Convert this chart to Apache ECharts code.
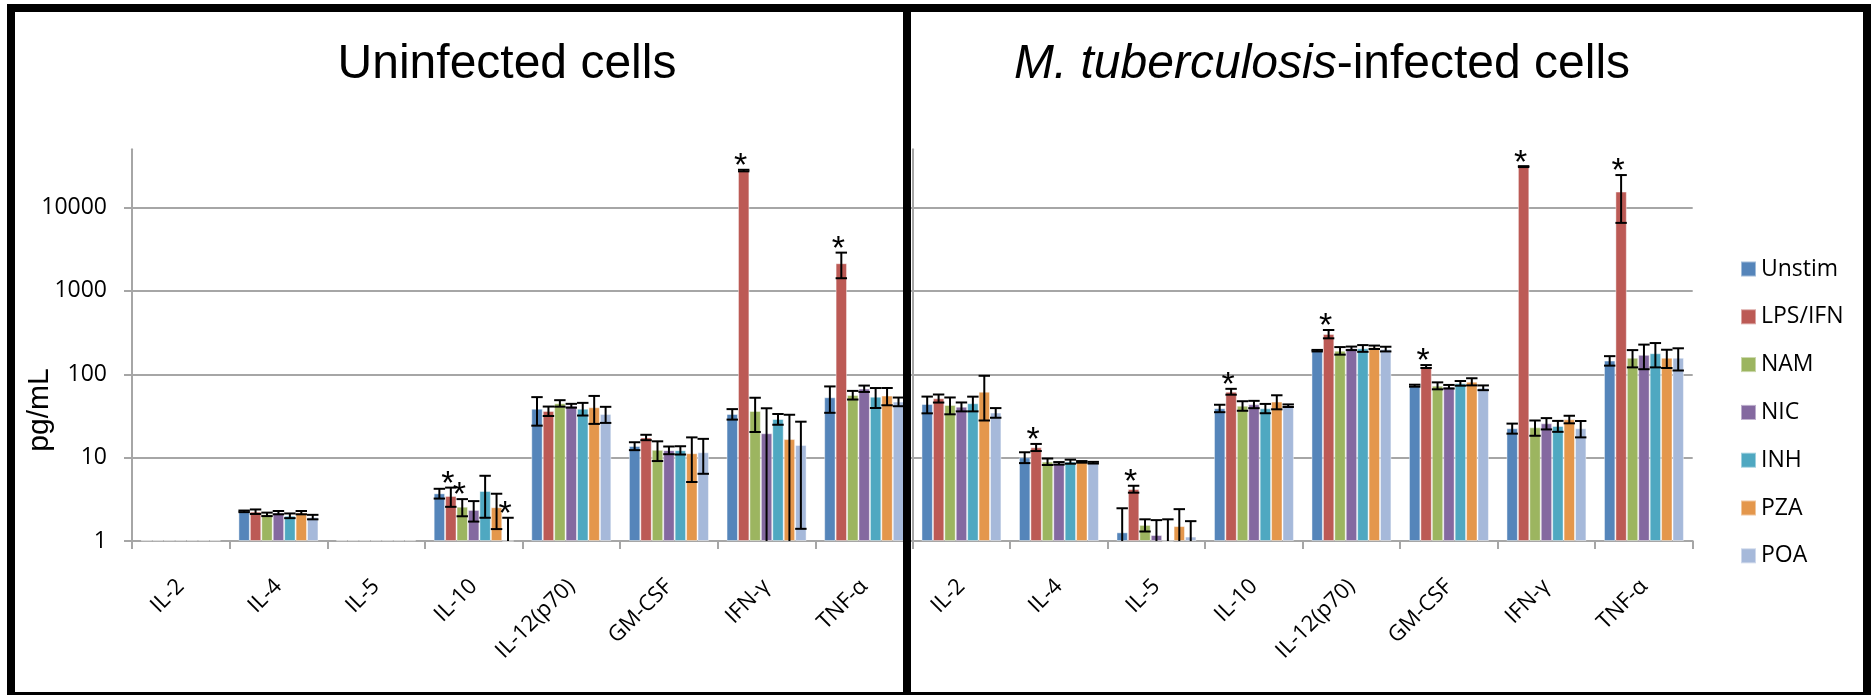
<!DOCTYPE html>
<html>
<head>
<meta charset="utf-8">
<style>
  html, body { margin: 0; padding: 0; background: #ffffff; }
  #chart { width: 1873px; height: 695px; }
</style>
<script src="https://cdn.jsdelivr.net/npm/echarts@6/dist/echarts.min.js"></script>
</head>
<body>
<div id="chart"></div>
<script>
// Cytokine panel: two log-scale grouped bar charts (uninfected vs infected)
const categories = ['IL-2', 'IL-4', 'IL-5', 'IL-10', 'IL-12(p70)', 'GM-CSF', 'IFN-γ', 'TNF-α'];
const treatments = ['Unstim', 'LPS/IFN', 'NAM', 'NIC', 'INH', 'PZA', 'POA'];
const colors = ['#5585BA', '#BC5A55', '#9CB560', '#8469A0', '#4FA8C1', '#E4974C', '#A6B9DA'];
const yTicks = [1, 10, 100, 1000, 10000];

// Uninfected cells: mean pg/mL per treatment (rows) and cytokine (columns)
const uninfectedMean = [
  [1.02, 2.27, 1.02, 3.73, 38.7, 13.8, 33.4, 53],
  [1.02, 2.25, 1.02, 3.47, 36.3, 17.5, 27800, 2150],
  [1.02, 2.09, 1.02, 2.58, 44.9, 12.4, 36.3, 56.5],
  [1.02, 2.19, 1.02, 2.36, 42.0, 12.3, 19.6, 67.3],
  [1.02, 2.01, 1.02, 3.98, 38.7, 12.3, 29.1, 53.9],
  [1.02, 2.19, 1.02, 2.54, 40.2, 11.3, 16.7, 55.5],
  [1.02, 1.94, 1.02, 1.0, 33.4, 11.6, 14.2, 47]
];
const uninfectedSD = [
  [0, 0.05, 0, 0.5, 14.5, 1.5, 4.8, 18.5],
  [0, 0.14, 0, 0.9, 4.7, 1.3, 600, 730],
  [0, 0.1, 0, 0.6, 4, 3.3, 16, 6.7],
  [0, 0.1, 0, 0.65, 2.2, 1.3, 19.5, 5.9],
  [0, 0.13, 0, 2.08, 6.7, 1.4, 4.3, 14.5],
  [0, 0.1, 0, 1.15, 14.8, 6.2, 16, 13],
  [0, 0.12, 0, 0.9, 7.3, 5.2, 12.8, 5.6]
];
// M. tuberculosis-infected cells
const infectedMean = [
  [44, 10.1, 1.27, 39.1, 192, 73, 22.5, 146],
  [51.5, 13.3, 4.2, 61.9, 305, 124, 31000, 15550],
  [42.9, 8.96, 1.56, 42, 192, 73, 23.1, 158],
  [40.9, 8.55, 1.18, 43.6, 205, 71, 25.8, 171],
  [44.9, 8.96, 1.0, 39.1, 205, 78, 24, 179],
  [61.9, 8.9, 1.51, 47, 211, 81.6, 28.8, 158],
  [34.7, 8.7, 1.13, 42, 201, 69, 22.5, 158]
];
const infectedSD = [
  [10, 1.5, 1.2, 4, 4, 2, 3.1, 19],
  [5.7, 1.3, 0.4, 5, 35, 5, 400, 9000],
  [9.8, 0.8, 0.26, 5.5, 20, 7, 4.8, 37],
  [5, 0.3, 0.6, 4.4, 10, 3.5, 4, 56],
  [9, 0.5, 0.82, 5, 19, 5, 3.6, 58],
  [34, 0.2, 0.9, 9, 10, 8, 3, 39],
  [4.6, 0.2, 0.6, 1.5, 13, 4.5, 5, 47]
];
// significance markers: [cytokine index, treatment index]
const uninfectedSig = [[3, 1], [3, 2], [3, 6], [6, 1], [7, 1]];
const infectedSig = [[1, 1], [2, 1], [3, 1], [4, 1], [5, 1], [6, 1], [7, 1]];

const CAT_GAP = 0.18;
const AXIS_GRAY = '#a6a6a6';
const LABEL_FONT = '"Open Sans"';

function xAxisFor(gridIndex) {
  return {
    type: 'category', gridIndex: gridIndex, data: categories,
    axisLine: { lineStyle: { color: AXIS_GRAY, width: 2 } },
    axisTick: { show: true, length: 8, lineStyle: { color: AXIS_GRAY, width: 2 } },
    axisLabel: { rotate: 45, interval: 0, margin: 42, fontSize: 22, fontFamily: LABEL_FONT, color: '#000' },
    splitLine: { show: false }
  };
}
function yAxisFor(gridIndex, showLabels) {
  return {
    type: 'log', gridIndex: gridIndex, logBase: 10, min: 1, max: 50000,
    axisLine: { show: true, lineStyle: { color: AXIS_GRAY, width: 2 } },
    axisTick: { show: true, length: 8, lineStyle: { color: AXIS_GRAY, width: 2 }, customValues: yTicks },
    axisLabel: {
      show: showLabels, margin: 25, fontSize: 23, fontFamily: LABEL_FONT, color: '#000',
      customValues: yTicks,
      formatter: function (v) { return String(v); }
    },
    splitLine: { show: true, showMinLine: false, lineStyle: { color: AXIS_GRAY, width: 2 } }
  };
}

function barSeries(means, gridIndex) {
  return treatments.map(function (name, t) {
    return {
      name: name, type: 'bar', xAxisIndex: gridIndex, yAxisIndex: gridIndex,
      data: means[t], barGap: '0%', barCategoryGap: (CAT_GAP * 100) + '%',
      itemStyle: { color: colors[t], borderColor: 'rgba(255,255,255,0.45)', borderWidth: 1 },
      emphasis: { disabled: true }, z: 2
    };
  });
}

function errorSeries(means, sds, sig, gridIndex) {
  const data = [];
  for (let t = 0; t < treatments.length; t++) {
    for (let c = 0; c < categories.length; c++) {
      const star = sig.some(function (s) { return s[0] === c && s[1] === t; }) ? 1 : 0;
      data.push([c, means[t][c], t, sds[t][c], star]);
    }
  }
  return {
    type: 'custom', xAxisIndex: gridIndex, yAxisIndex: gridIndex, z: 5, silent: true,
    encode: { x: 0, y: 1 }, data: data,
    renderItem: function (params, api) {
      const c = api.value(0), mean = api.value(1), t = api.value(2), sd = api.value(3), star = api.value(4);
      const band = api.size([1, 0])[0];
      const bw = band * (1 - CAT_GAP) / treatments.length;
      const center = api.coord([c, mean]);
      const cx = center[0] - band * (1 - CAT_GAP) / 2 + (t + 0.5) * bw;
      const children = [];
      let hiY = center[1];
      if (sd > 0) {
        const hi = mean + sd;
        const lo = mean - sd;
        hiY = api.coord([c, hi])[1];
        const clipped = lo < 1;
        const loY = api.coord([c, clipped ? 1 : lo])[1];
        const half = bw / 2;
        const ls = { stroke: '#000', lineWidth: 2 };
        children.push({ type: 'line', shape: { x1: cx, y1: hiY, x2: cx, y2: loY }, style: ls });
        children.push({ type: 'line', shape: { x1: cx - half, y1: hiY, x2: cx + half, y2: hiY }, style: ls });
        if (!clipped) {
          children.push({ type: 'line', shape: { x1: cx - half, y1: loY, x2: cx + half, y2: loY }, style: ls });
        }
      }
      if (star) {
        children.push({
          type: 'text',
          style: { text: '*', x: cx - 3, y: hiY - 3, font: '34px "Liberation Sans"', fill: '#000',
                   textAlign: 'center', textVerticalAlign: 'middle' }
        });
      }
      return { type: 'group', children: children };
    }
  };
}

const chart = echarts.init(document.getElementById('chart'), null, { renderer: 'canvas' });
chart.setOption({
  backgroundColor: '#ffffff',
  animation: false,
  color: colors,
  grid: [
    { left: 132, top: 149.3, width: 781, height: 391.7, outerBoundsMode: 'none', containLabel: false },
    { left: 912.7, top: 149.3, width: 780, height: 391.7, outerBoundsMode: 'none', containLabel: false }
  ],
  xAxis: [xAxisFor(0), xAxisFor(1)],
  yAxis: [yAxisFor(0, true), yAxisFor(1, false)],
  legend: {
    orient: 'vertical', left: 1735, top: 252, itemWidth: 15, itemHeight: 15, itemGap: 23.8,
    icon: 'rect', data: treatments, selectedMode: false,
    textStyle: { fontSize: 23, lineHeight: 24, fontFamily: LABEL_FONT, color: '#000' }
  },
  series: []
    .concat(barSeries(uninfectedMean, 0))
    .concat(barSeries(infectedMean, 1))
    .concat([errorSeries(uninfectedMean, uninfectedSD, uninfectedSig, 0),
             errorSeries(infectedMean, infectedSD, infectedSig, 1)]),
  graphic: [
    { type: 'text', x: 507, y: 65, z: 10,
      style: { text: 'Uninfected cells', font: '48px "Liberation Sans"', fill: '#000',
               textAlign: 'center', textVerticalAlign: 'middle' } },
    { type: 'text', x: 1322, y: 65, z: 10,
      style: { text: '{it|M. tuberculosis}{n|-infected cells}', textAlign: 'center', textVerticalAlign: 'middle',
               rich: { it: { font: 'italic 48px "Liberation Sans"', fill: '#000' },
                       n: { font: '48px "Liberation Sans"', fill: '#000' } } } },
    { type: 'text', x: 40, y: 410, rotation: Math.PI / 2, z: 10,
      style: { text: 'pg/mL', font: '30px "Liberation Sans"', fill: '#000',
               textAlign: 'center', textVerticalAlign: 'middle' } },
    // panel frames
    { type: 'rect', z: 20, shape: { x: 7, y: 4, width: 8, height: 700 }, style: { fill: '#000' } },
    { type: 'rect', z: 20, shape: { x: 7, y: 4, width: 1864, height: 8 }, style: { fill: '#000' } },
    { type: 'rect', z: 20, shape: { x: 1863, y: 4, width: 8, height: 700 }, style: { fill: '#000' } },
    { type: 'rect', z: 20, shape: { x: 7, y: 692, width: 1864, height: 8 }, style: { fill: '#000' } },
    { type: 'rect', z: 20, shape: { x: 903, y: 4, width: 8, height: 700 }, style: { fill: '#000' } }
  ]
});
</script>
</body>
</html>
